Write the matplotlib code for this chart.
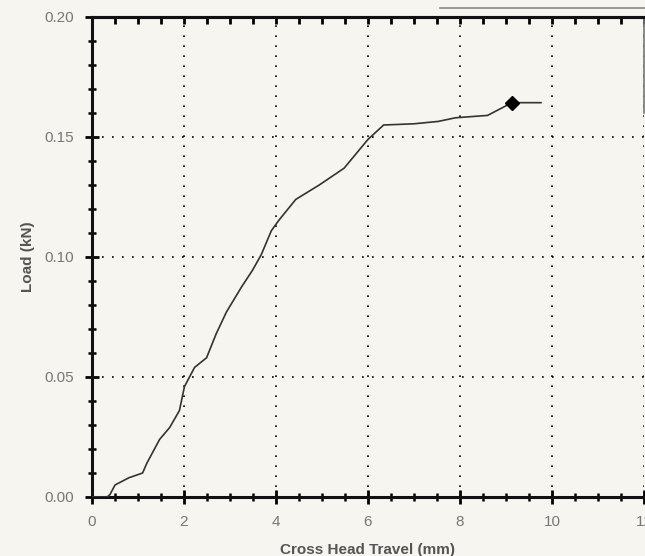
import numpy as np
import matplotlib.pyplot as plt
from matplotlib.ticker import MultipleLocator

# cross head travel (mm) vs load (kN)
travel = [0.0, 0.33, 0.39, 0.5, 0.8, 1.1, 1.19, 1.47, 1.69, 1.9, 2.01, 2.23, 2.49,
          2.7, 2.92, 3.25, 3.49, 3.68, 3.9, 4.07, 4.43, 4.94, 5.48, 6.0, 6.34,
          7.0, 7.53, 7.9, 8.6, 8.9, 9.13, 9.76]
load = [0.0, 0.0, 0.001, 0.005, 0.008, 0.010, 0.014, 0.024, 0.029, 0.036, 0.046,
        0.054, 0.058, 0.068, 0.077, 0.0875, 0.0945, 0.101, 0.111, 0.1155, 0.124,
        0.130, 0.137, 0.149, 0.155, 0.1555, 0.1565, 0.158, 0.159, 0.162, 0.1643,
        0.1643]
peak_x, peak_y = 9.13, 0.1643

xticks = [0, 2, 4, 6, 8, 10, 12]
xtick_labels = ["0", "2", "4", "6", "8", "10", "12"]
yticks = [0.0, 0.05, 0.10, 0.15, 0.20]
ytick_labels = ["0.00", "0.05", "0.10", "0.15", "0.20"]

bg = "#f6f5ef"
plt.rcParams['font.family'] = ['Liberation Sans', 'DejaVu Sans']

fig = plt.figure(figsize=(6.45, 5.56), dpi=100, facecolor=bg)
ax = fig.add_axes([92 / 645, 1 - 497 / 556, 552 / 645, 480 / 556])
ax.set_facecolor(bg)

ax.plot(travel, load, color="#333333", lw=1.2, zorder=3)
ax.plot([peak_x], [peak_y], marker="D", color="black", ms=7, zorder=4)

ax.set_xlim(0, 12)
ax.set_ylim(0, 0.20)
ax.set_xticks(xticks)
ax.set_xticklabels(xtick_labels)
ax.set_yticks(yticks)
ax.set_yticklabels(ytick_labels)
ax.xaxis.set_minor_locator(MultipleLocator(0.5))
ax.yaxis.set_minor_locator(MultipleLocator(0.01))

ax.grid(True, which="major", color="black", linestyle=(0, (1, 5)), lw=1.2)
ax.tick_params(which="major", direction="inout", length=10, width=2,
               labelsize=11, labelcolor="#777777", pad=8)
ax.tick_params(which="minor", direction="inout", length=6, width=1.8)
for s in ax.spines.values():
    s.set_linewidth(2.2)
    s.set_color("#111111")
ax.spines["right"].set_bounds(0.16, 0.20)
ax.spines["right"].set_color("#777777")
ax.spines["right"].set_linewidth(1.2)

# inward ticks along the top edge
top = ax.secondary_xaxis("top")
top.set_xticks(xticks)
top.xaxis.set_minor_locator(MultipleLocator(0.5))
top.tick_params(which="both", direction="in", length=5, width=2, labeltop=False)
top.spines["top"].set_linewidth(2.2)

ax.set_xlabel("Cross Head Travel (mm)", fontsize=11, color="#555555",
              fontweight="bold", labelpad=10)
ax.set_ylabel("Load (kN)", fontsize=11, color="#555555",
              fontweight="bold", labelpad=7)

# scan edge line at the top right
fig.add_artist(plt.Line2D([440 / 645, 1.0], [1 - 8 / 556, 1 - 8 / 556],
                          color="#888888", lw=1.2))

fig.savefig("out.png", dpi=100, facecolor=bg)
